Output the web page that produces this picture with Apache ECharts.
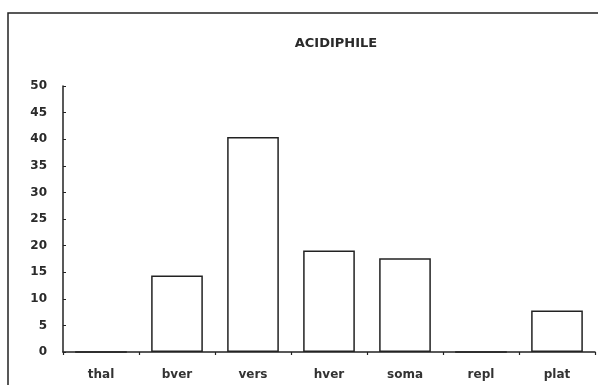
<!DOCTYPE html>
<html>
<head>
<meta charset="utf-8">
<script src="https://cdn.jsdelivr.net/npm/echarts@6/dist/echarts.min.js"></script>
<style>
html,body{margin:0;padding:0;background:#fff;}
#c{width:598px;height:385px;}
</style>
</head>
<body>
<div id="c"></div>
<script>
const titleText = 'ACIDIPHILE';
const categories = ['thal', 'bver', 'vers', 'hver', 'soma', 'repl', 'plat'];
const values = [0, 14.4, 40.4, 19.1, 17.6, 0, 7.8];
const yTicks = [0, 5, 10, 15, 20, 25, 30, 35, 40, 45, 50];

const chart = echarts.init(document.getElementById('c'), null, {renderer: 'canvas'});
const font = '"DejaVu Sans", "Liberation Sans", Arial, sans-serif';
chart.setOption({
  backgroundColor: '#ffffff',
  animation: false,
  graphic: [{
    type: 'rect',
    shape: {x: 8, y: 13, width: 700, height: 500},
    style: {fill: 'none', stroke: '#222', lineWidth: 1.5},
    silent: true
  }],
  title: {
    text: titleText,
    left: 331,
    top: 32,
    textAlign: 'center',
    textStyle: {fontFamily: font, fontSize: 13, fontWeight: 'bold', color: '#2a2a2a'}
  },
  grid: {left: 63, right: 3, top: 86, bottom: 33, containLabel: false},
  xAxis: {
    type: 'category',
    data: categories,
    axisLine: {lineStyle: {color: '#222', width: 1.5}},
    axisTick: {show: true, alignWithLabel: false, length: 3, inside: false, lineStyle: {color: '#222', width: 1.2}},
    axisLabel: {margin: 17, fontFamily: font, fontSize: 12, fontWeight: 'bold', color: '#333'},
    splitLine: {show: false}
  },
  yAxis: {
    type: 'value',
    min: 0,
    max: 50,
    interval: 5,
    axisLine: {show: true, lineStyle: {color: '#222', width: 1.5}},
    axisTick: {show: true, length: 3, inside: true, lineStyle: {color: '#222', width: 1}},
    axisLabel: {margin: 16, fontFamily: font, fontSize: 12, fontWeight: 'bold', color: '#2a2a2a',
      formatter: v => yTicks.includes(v) ? String(v) : ''},
    splitLine: {show: false}
  },
  series: [{
    type: 'bar',
    data: values,
    barWidth: '68%',
    itemStyle: {color: '#ffffff', borderColor: '#222', borderWidth: 1.5}
  }]
});
</script>
</body>
</html>
